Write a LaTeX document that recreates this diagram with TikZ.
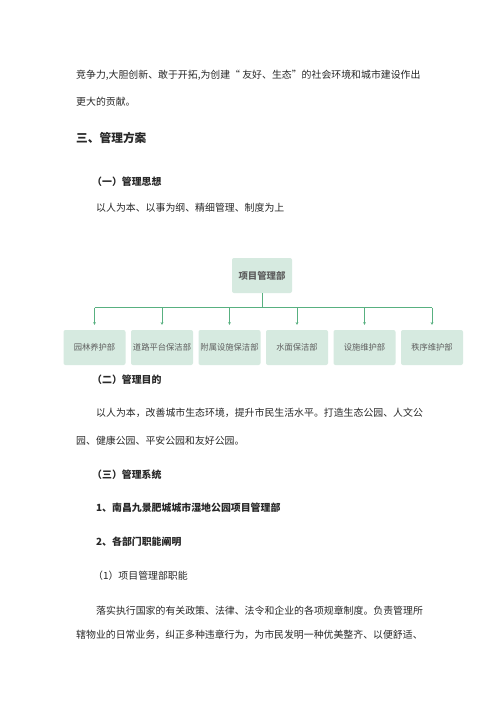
\documentclass[tikz,border=0pt]{standalone}
\usepackage{fontspec}
\setmainfont{Liberation Serif}
\newfontfamily\cjk{Noto Sans CJK SC}
\usetikzlibrary{arrows.meta}
\definecolor{linegreen}{RGB}{88,176,128}
\definecolor{boxfill}{RGB}{214,234,224}
\definecolor{boxtext}{RGB}{95,95,95}
\definecolor{bodytext}{RGB}{40,40,40}
\tikzset{
  body/.style={anchor=west, inner sep=0pt, font=\cjk\fontsize{9.9}{12}\selectfont, text=bodytext},
  bodybold/.style={body, font=\cjk\bfseries\fontsize{9.9}{12}\selectfont},
  heading/.style={body, font=\cjk\bfseries\fontsize{11.7}{14}\selectfont},
  topbox/.style={draw=none, fill=boxfill, rounded corners=2pt, minimum width=60pt, minimum height=35pt, inner sep=0pt, font=\cjk\bfseries\fontsize{9.4}{11}\selectfont, text=boxtext},
  deptbox/.style={draw=none, fill=boxfill, rounded corners=2pt, minimum width=62pt, minimum height=35pt, inner sep=0pt, font=\cjk\fontsize{8.3}{10}\selectfont, text=boxtext},
  conn/.style={draw=linegreen, line width=0.7pt},
  arr/.style={conn, -{Stealth[length=2.6pt,width=2.6pt]}, shorten >=5pt}
}
\begin{document}
\begin{tikzpicture}[x=1pt,y=-1pt]
\useasboundingbox (0,0) rectangle (500,707);
\fill[white] (0,0) rectangle (500,707);

% text lines
\node[body] (t1) at (76,75) {竞争力,大胆创新、敢于开拓,为创建“ 友好、生态”的社会环境和城市建设作出};
\node[body] (t2) at (76,102) {更大的贡献。};
\node[heading] (t3) at (76,138) {三、管理方案};
\node[bodybold] (t4) at (92,182) {（一）管理思想};
\node[body] (t5) at (96,208) {以人为本、以事为纲、精细管理、制度为上};

% org chart
\node[topbox] (top) at (262,275.5) {项目管理部};
\coordinate (bar) at (262,307.5);
\node[deptbox] (d1) at (94.5,347.5) {园林养护部};
\node[deptbox] (d2) at (162,347.5) {道路平台保洁部};
\node[deptbox] (d3) at (229.5,347.5) {附属设施保洁部};
\node[deptbox] (d4) at (297,347.5) {水面保洁部};
\node[deptbox] (d5) at (364.5,347.5) {设施维护部};
\node[deptbox] (d6) at (432,347.5) {秩序维护部};
\draw[conn] (top.south) -- (bar);
\draw[conn] (d1.north |- bar) -- (d6.north |- bar);
\foreach \d in {d1,d2,d3,d4,d5,d6}{
  \draw[arr] (\d.north |- bar) -- (\d.north);
}

\node[bodybold] (t6) at (92,380) {（二）管理目的};
\node[body] (t7) at (96,413) {以人为本，改善城市生态环境，提升市民生活水平。打造生态公园、人文公};
\node[body] (t8) at (76,441) {园、健康公园、平安公园和友好公园。};
\node[bodybold] (t9) at (92,475) {（三）管理系统};
\node[bodybold] (t10) at (96,508) {1、南昌九景肥城城市湿地公园项目管理部};
\node[bodybold] (t11) at (96,542) {2、各部门职能阐明};
\node[body] (t12) at (93,576) {（1）项目管理部职能};
\node[body] (t13) at (96,611) {落实执行国家的有关政策、法律、法令和企业的各项规章制度。负责管理所};
\node[body] (t14) at (76,635) {辖物业的日常业务，纠正多种违章行为，为市民发明一种优美整齐、以便舒适、};
\end{tikzpicture}
\end{document}
